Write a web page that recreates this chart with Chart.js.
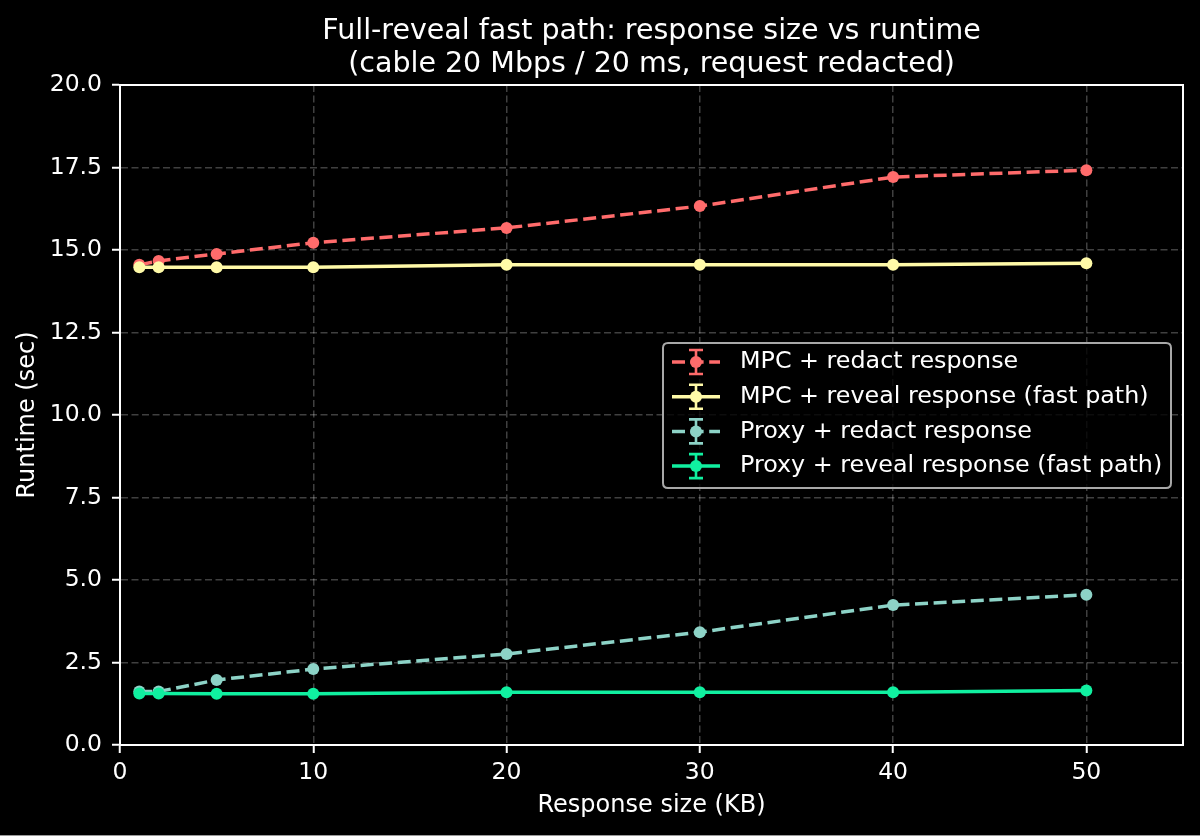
<!DOCTYPE html>
<html><head><meta charset="utf-8">
<script src="https://cdn.jsdelivr.net/npm/chart.js@4"></script>
<style>html,body{margin:0;padding:0;background:#000;overflow:hidden}#wrap{width:1200px;height:836px}</style>
</head><body><div id="wrap"><canvas id="c" width="1200" height="836"></canvas></div>
<script>
// ---- data ----
const sizesKB = [1, 2, 5, 10, 20, 30, 40, 50];
const mpcRedact   = [14.55, 14.67, 14.88, 15.22, 15.67, 16.33, 17.21, 17.42];
const mpcReveal   = [14.48, 14.48, 14.48, 14.48, 14.55, 14.55, 14.55, 14.60];
const proxyRedact = [1.62, 1.62, 1.97, 2.30, 2.76, 3.42, 4.24, 4.55];
const proxyReveal = [1.56, 1.56, 1.55, 1.55, 1.60, 1.60, 1.60, 1.65];
const seriesLabels = [
  'MPC + redact response',
  'MPC + reveal response (fast path)',
  'Proxy + redact response',
  'Proxy + reveal response (fast path)'
];
const titleLines = ['Full-reveal fast path: response size vs runtime', '(cable 20 Mbps / 20 ms, request redacted)'];
const xTitle = 'Response size (KB)';
const yTitle = 'Runtime (sec)';

// ---- styles ----
const F = "'DejaVu Sans', 'Liberation Sans', sans-serif";
const colors = ['#ff6b6b', '#fffaa8', '#8dd3c7', '#10f0a0'];
const dashedFlags = [true, false, true, false];
const DASH = [13, 5.6];
const seriesValues = [mpcRedact, mpcReveal, proxyRedact, proxyReveal];

const datasets = seriesValues.map((ys, i) => ({
  label: seriesLabels[i],
  data: sizesKB.map((x, j) => ({x: x, y: ys[j]})),
  borderColor: colors[i],
  backgroundColor: colors[i],
  pointBackgroundColor: colors[i],
  pointBorderColor: colors[i],
  pointBorderWidth: 0,
  pointRadius: 6,
  pointHoverRadius: 6,
  borderWidth: 3.5,
  borderDash: dashedFlags[i] ? DASH : [],
  tension: 0,
  fill: false,
  order: 3 - i
}));

const gridCommon = {
  color: 'rgba(255,255,255,0.25)',
  lineWidth: 1.5,
  tickColor: '#ffffff',
  tickLength: 8,
  tickWidth: 2,
  tickBorderDash: [],
  drawTicks: true
};
const borderCommon = {display: true, color: '#ffffff', width: 2, dash: [7, 3.5]};

const framePlugin = {
  id: 'frame',
  afterDatasetsDraw(chart) {
    const {ctx, chartArea: a} = chart;
    ctx.save();
    ctx.strokeStyle = '#ffffff';
    ctx.lineWidth = 2;
    ctx.setLineDash([]);
    ctx.strokeRect(a.left, a.top, a.right - a.left, a.bottom - a.top);
    ctx.restore();
  }
};

const titlePlugin = {
  id: 'mtitle',
  afterDraw(chart) {
    const {ctx, chartArea: a} = chart;
    ctx.save();
    ctx.fillStyle = '#ffffff';
    ctx.font = '28.5px ' + F;
    ctx.textAlign = 'center';
    ctx.textBaseline = 'alphabetic';
    const cx = (a.left + a.right) / 2;
    ctx.fillText(titleLines[0], cx, 39);
    ctx.fillText(titleLines[1], cx, 72);
    ctx.strokeStyle = '#9a9a9a';
    ctx.lineWidth = 1;
    ctx.beginPath(); ctx.moveTo(0, 835.5); ctx.lineTo(1200, 835.5); ctx.stroke();
    ctx.restore();
  }
};

const legendPlugin = {
  id: 'mlegend',
  afterDraw(chart) {
    const {ctx} = chart;
    const bx = 663, by = 343, bw = 508, bh = 145, r = 5;
    ctx.save();
    ctx.beginPath();
    ctx.moveTo(bx + r, by);
    ctx.lineTo(bx + bw - r, by); ctx.quadraticCurveTo(bx + bw, by, bx + bw, by + r);
    ctx.lineTo(bx + bw, by + bh - r); ctx.quadraticCurveTo(bx + bw, by + bh, bx + bw - r, by + bh);
    ctx.lineTo(bx + r, by + bh); ctx.quadraticCurveTo(bx, by + bh, bx, by + bh - r);
    ctx.lineTo(bx, by + r); ctx.quadraticCurveTo(bx, by, bx + r, by);
    ctx.closePath();
    ctx.fillStyle = 'rgba(0,0,0,0.8)';
    ctx.fill();
    ctx.strokeStyle = '#a8a8a8';
    ctx.lineWidth = 2;
    ctx.stroke();
    chart.data.datasets.forEach((ds, i) => {
      const cy = 362 + i * 34.7;
      const x0 = 672, x1 = 720, mx = 696;
      ctx.strokeStyle = ds.borderColor;
      ctx.fillStyle = ds.borderColor;
      ctx.lineWidth = 3.5;
      ctx.setLineDash(ds.borderDash || []);
      ctx.beginPath(); ctx.moveTo(x0, cy); ctx.lineTo(x1, cy); ctx.stroke();
      ctx.setLineDash([]);
      ctx.lineWidth = 2.6;
      ctx.beginPath();
      ctx.moveTo(mx, cy - 12); ctx.lineTo(mx, cy + 12);
      ctx.moveTo(mx - 7, cy - 12); ctx.lineTo(mx + 7, cy - 12);
      ctx.moveTo(mx - 7, cy + 12); ctx.lineTo(mx + 7, cy + 12);
      ctx.stroke();
      ctx.beginPath(); ctx.arc(mx, cy, 6, 0, Math.PI * 2); ctx.fill();
      ctx.fillStyle = '#ffffff';
      ctx.font = '23.8px ' + F;
      ctx.textAlign = 'left';
      ctx.textBaseline = 'middle';
      ctx.fillText(ds.label, 740, cy);
    });
    ctx.restore();
  }
};

new Chart(document.getElementById('c'), {
  type: 'line',
  data: {datasets: datasets},
  options: {
    responsive: false,
    animation: false,
    devicePixelRatio: 1,
    layout: {padding: {top: 85, left: 0, right: 17, bottom: 0}},
    plugins: {legend: {display: false}, title: {display: false}, tooltip: {enabled: false}},
    scales: {
      x: {
        type: 'linear', min: 0, max: 55,
        afterBuildTicks: s => { s.ticks = s.ticks.filter(t => t.value <= 50 && Math.abs(t.value % 10) < 1e-9); },
        ticks: {stepSize: 10, color: '#ffffff', font: {family: F, size: 23.5}, padding: 6, maxRotation: 0, autoSkip: false},
        grid: gridCommon,
        border: borderCommon,
        title: {display: true, text: xTitle, color: '#ffffff', font: {family: F, size: 24}, padding: {top: 0, bottom: 16}},
        afterFit: s => { s.height = 91; }
      },
      y: {
        type: 'linear', min: 0, max: 20,
        ticks: {stepSize: 2.5, color: '#ffffff', font: {family: F, size: 23.5}, padding: 10, callback: v => Number(v).toFixed(1)},
        grid: gridCommon,
        border: borderCommon,
        title: {display: true, text: yTitle, color: '#ffffff', font: {family: F, size: 24}, padding: {top: 13, bottom: 0}},
        afterFit: s => { s.width = 120; }
      }
    }
  },
  plugins: [framePlugin, titlePlugin, legendPlugin]
});
</script>
</body></html>
